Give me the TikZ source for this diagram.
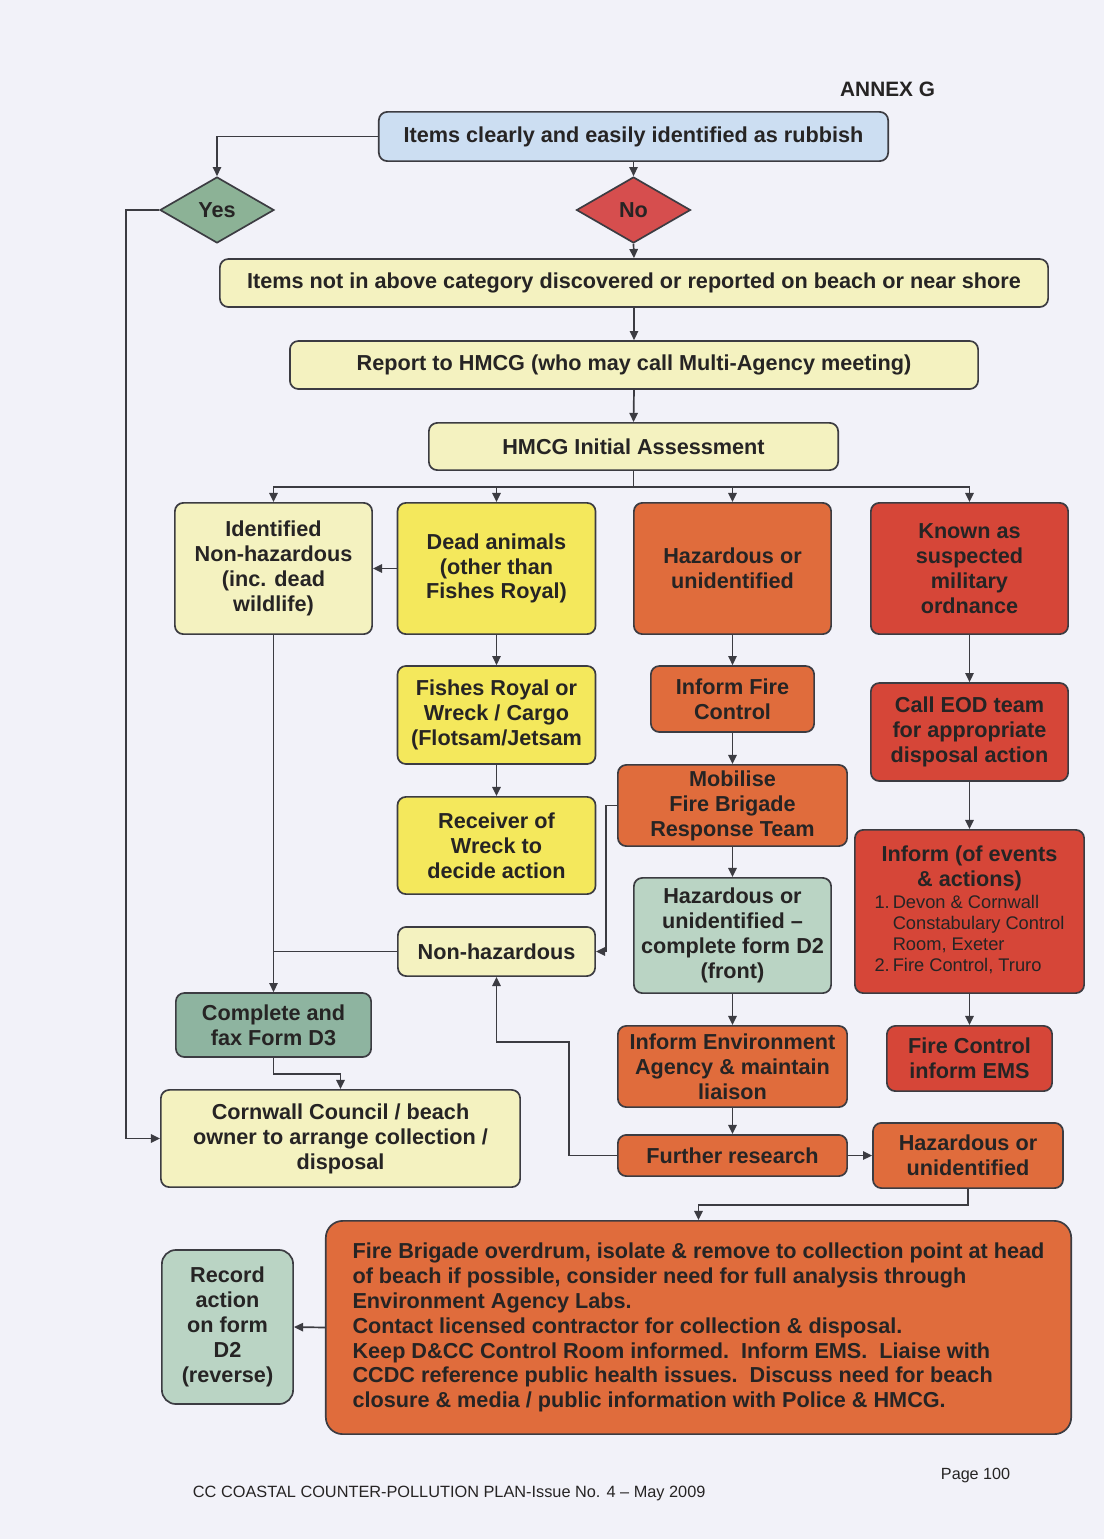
\documentclass[tikz,border=0pt]{standalone}
\usepackage{fontspec}
\setmainfont{Liberation Sans}
\usetikzlibrary{shapes.geometric,arrows.meta}

\definecolor{pagebg}{RGB}{242,242,249}
\definecolor{rubbishblue}{RGB}{204,222,242}
\definecolor{yesgreen}{RGB}{140,178,150}
\definecolor{nored}{RGB}{214,78,78}
\definecolor{paleyellow}{RGB}{244,242,192}
\definecolor{deadyellow}{RGB}{244,232,92}
\definecolor{hazorange}{RGB}{224,108,60}
\definecolor{milred}{RGB}{214,70,56}
\definecolor{formgreen}{RGB}{142,180,160}
\definecolor{palegreen}{RGB}{186,212,196}
\definecolor{edgegrey}{RGB}{60,60,66}
\definecolor{inkgrey}{RGB}{38,36,36}

\tikzset{
  box/.style={draw=edgegrey, line width=1.2pt, rounded corners=6pt, align=center,
    inner sep=1pt, text=inkgrey, font=\fontsize{15.4}{17.7}\selectfont\bfseries},
  decision/.style={diamond, draw=edgegrey, line width=1.2pt, inner sep=0pt,
    minimum width=2.85cm, minimum height=1.65cm,
    text=inkgrey, font=\fontsize{15.4}{17.7}\selectfont\bfseries},
  arr/.style={draw=edgegrey, line width=1.2pt, -{Triangle[length=6.5pt,width=6pt]}},
  link/.style={draw=edgegrey, line width=1.2pt},
}

\begin{document}
\begin{tikzpicture}[x=0.025cm, y=-0.025cm]
                % Page
                \fill[pagebg] (0,0) rectangle (1104,1539);
                \useasboundingbox (0,0) rectangle (1104,1539);

                % Header and footer
                \node[anchor=base east, text=inkgrey, font=\fontsize{14.8}{17}\selectfont\bfseries] (annex) at (940,96) {ANNEX G};
                \node[anchor=base west, text=inkgrey, font=\fontsize{11.5}{13}\selectfont] (page) at (936,1479) {Page 100};
                \node[anchor=base west, text=inkgrey, font=\fontsize{11.6}{14}\selectfont] (plan) at (188,1497) {CC COASTAL COUNTER-POLLUTION PLAN-Issue No. 4 -- May 2009};

                % First question
                \node[box, fill=rubbishblue, minimum width=12.73cm, minimum height=1.23cm] (rubbish) at (633.5,136.5) {Items clearly and easily identified as rubbish};
                \node[decision, fill=yesgreen] (yes) at (217,210) {Yes};
                \node[decision, fill=nored] (no) at (633.5,210) {No};

                % Reporting chain
                \node[box, fill=paleyellow, minimum width=20.7cm, minimum height=1.2cm] (found) at (634,283) {Items not in above category discovered or reported on beach or near shore};
                \node[box, fill=paleyellow, minimum width=17.2cm, minimum height=1.2cm] (report) at (634,365) {Report to HMCG (who may call Multi-Agency meeting)};
                \node[box, fill=paleyellow, minimum width=10.23cm, minimum height=1.18cm] (assess) at (633.5,446.5) {HMCG Initial Assessment};
                \coordinate (bus) at (633.5,487);

                % Four categories
                \node[box, fill=paleyellow, minimum width=4.93cm, minimum height=3.28cm] (ident) at (273.5,568.5) {Identified\\Non-hazardous\\(inc. dead\\wildlife)};
                \node[box, fill=deadyellow, minimum width=4.95cm, minimum height=3.28cm] (dead) at (496.5,568.5) {Dead animals\\(other than\\Fishes Royal)};
                \node[box, fill=hazorange, minimum width=4.93cm, minimum height=3.28cm] (haz) at (732.5,568.5) {Hazardous or\\unidentified};
                \node[box, fill=milred, minimum width=4.93cm, minimum height=3.28cm] (mil) at (969.5,568.5) {Known as\\suspected\\military\\ordnance};

                % Dead animals branch
                \node[box, fill=deadyellow, minimum width=4.95cm, minimum height=2.45cm] (fishes) at (496.5,715) {Fishes Royal or\\Wreck / Cargo\\(Flotsam/Jetsam};
                \node[box, fill=deadyellow, minimum width=4.95cm, minimum height=2.43cm] (receiver) at (496.5,845.5) {Receiver of\\Wreck to\\decide action};
                \node[box, fill=paleyellow, minimum width=4.93cm, minimum height=1.23cm] (nonhaz) at (496.5,951.5) {Non-hazardous};

                % Hazardous branch
                \node[box, fill=hazorange, minimum width=4.08cm, minimum height=1.65cm] (firectl) at (732.5,699) {Inform Fire\\Control};
                \node[box, fill=hazorange, minimum width=5.73cm, minimum height=2.03cm] (mobilise) at (732.5,805.5) {Mobilise\\Fire Brigade\\Response Team};
                \node[box, fill=palegreen, minimum width=4.93cm, minimum height=2.88cm] (formDtwo) at (732.5,935.5) {Hazardous or\\unidentified --\\complete form D2\\(front)};
                \node[box, fill=hazorange, minimum width=5.73cm, minimum height=2.03cm] (agency) at (732.5,1066.5) {Inform Environment\\Agency \& maintain\\liaison};
                \node[box, fill=hazorange, minimum width=5.73cm, minimum height=1.03cm] (further) at (732.5,1155.5) {Further research};
                \node[box, fill=hazorange, minimum width=4.75cm, minimum height=1.63cm] (hazagain) at (968,1155.5) {Hazardous or\\unidentified};
                \coordinate (detour) at (569,1042);

                % Ordnance branch
                \node[box, fill=milred, minimum width=4.93cm, minimum height=2.45cm] (eod) at (969.5,732) {Call EOD team\\for appropriate\\disposal action};
                \node[box, fill=milred, minimum width=5.73cm, minimum height=4.08cm] (inform) at (969.5,911.5)
                  {Inform (of events\\\& actions)\\[1pt]
                   {\fontsize{13}{14.9}\selectfont\mdseries
                    \begin{tabular}{@{}l@{\,}l@{}}1.&Devon \& Cornwall\\&Constabulary Control\\&Room, Exeter\\2.&Fire Control, Truro\end{tabular}}};
                \node[box, fill=milred, minimum width=4.13cm, minimum height=1.63cm] (ems) at (969.5,1058.5) {Fire Control\\inform EMS};

                % Disposal
                \node[box, fill=formgreen, minimum width=4.88cm, minimum height=1.6cm] (formDthree) at (273.5,1025) {Complete and\\fax Form D3};
                \node[box, fill=paleyellow, minimum width=8.98cm, minimum height=2.43cm] (council) at (340.5,1138.5) {Cornwall Council / beach\\owner to arrange collection /\\disposal};

                % Final action
                \node[box, fill=hazorange, rounded corners=12pt, minimum width=18.63cm, minimum height=5.33cm, align=left] (action) at (698.5,1327.5)
                  {Fire Brigade overdrum, isolate \& remove to collection point at head\\
                   of beach if possible, consider need for full analysis through\\
                   Environment Agency Labs.\\
                   Contact licensed contractor for collection \& disposal.\\
                   Keep D\&CC Control Room informed.\ \ Inform EMS.\ \ Liaise with\\
                   CCDC reference public health issues.\ \ Discuss need for beach\\
                   closure \& media / public information with Police \& HMCG.};
                \node[box, fill=palegreen, rounded corners=10pt, minimum width=3.28cm, minimum height=3.85cm] (record) at (227.5,1327) {Record\\action\\on form\\D2\\(reverse)};

                % Connectors, top part
                \draw[arr] (rubbish.west) -| (yes.north);
                \draw[arr] (rubbish.south) -- (no.north);
                \draw[arr] (yes.west) -- ++(-33,0) |- (council.west);
                \draw[arr] (no.south) -- (found.north);
                \draw[arr] (found.south) -- (report.north);
                \draw[arr] (report.south) -- (assess.north);
                \draw[link] (assess.south) -- (bus);
                \draw[arr] (bus) -| (ident.north);
                \draw[arr] (bus) -| (dead.north);
                \draw[arr] (bus) -| (haz.north);
                \draw[arr] (bus) -| (mil.north);

                % Connectors, left side
                \draw[arr] (dead.west) -- (ident.east);
                \draw[arr] (dead.south) -- (fishes.north);
                \draw[arr] (fishes.south) -- (receiver.north);
                \draw[arr] (ident.south) -- (formDthree.north);
                \draw[link] (nonhaz.west) -- (nonhaz.west -| ident.south);
                \draw[arr] (formDthree.south) -- ++(0,16) -| (council.north);

                % Connectors, hazardous
                \draw[arr] (haz.south) -- (firectl.north);
                \draw[arr] (firectl.south) -- (mobilise.north);
                \draw[arr] (mobilise.west) -- ++(-11,0) |- (nonhaz.east);
                \draw[arr] (mobilise.south) -- (formDtwo.north);
                \draw[arr] (formDtwo.south) -- (agency.north);
                \draw[arr] (agency.south) -- (further.north);
                \draw[arr] (further.east) -- (hazagain.west);
                \draw[arr] (further.west) -| (detour) -| (nonhaz.south);
                \draw[arr] (hazagain.south) -- ++(0,16) -| (action.north);
                \draw[arr] (action.west) -- (record.east);

                % Connectors, ordnance
                \draw[arr] (mil.south) -- (eod.north);
                \draw[arr] (eod.south) -- (inform.north);
                \draw[arr] (inform.south) -- (ems.north);
\end{tikzpicture}
\end{document}
